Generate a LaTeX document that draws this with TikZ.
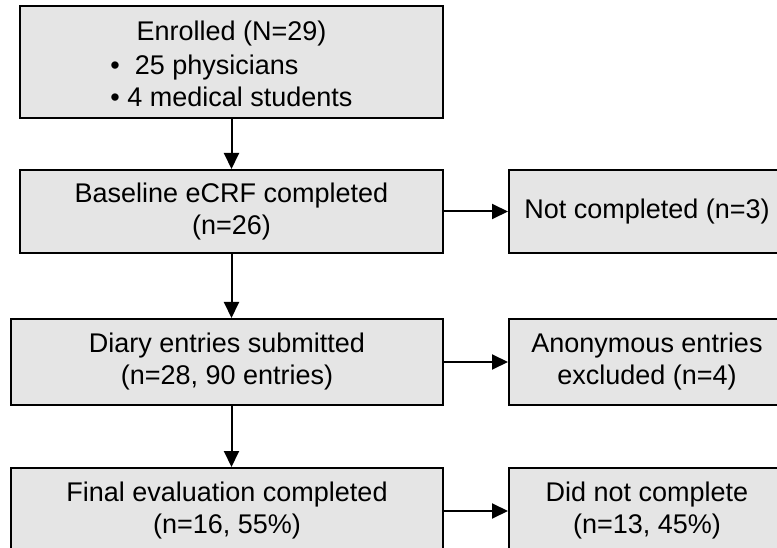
\documentclass[tikz,border=0pt]{standalone}
\usepackage{fontspec}
\setmainfont{Liberation Sans}
\usepackage{tikz}
\usetikzlibrary{arrows.meta}

\tikzset{
  box/.style={draw, line width=2pt, fill=boxgray, align=center, inner sep=0pt,
    font=\fontsize{27}{32}\selectfont},
  flow/.style={line width=2pt, -{Triangle[length=16pt,width=15pt]}}
}
\definecolor{boxgray}{RGB}{229,229,229}

\begin{document}
\begin{tikzpicture}[x=1pt, y=-1pt]
  \useasboundingbox (0,0) rectangle (777,548);
  \clip (0,0) rectangle (777,548);
  % left column
  \node[box, minimum width=423pt, minimum height=112pt] (enrolled) at (231.5, 62)
    {\raisebox{-5pt}[\height][\depth]{\begin{tabular}{@{}c@{}}
     Enrolled (N=29)\\[2pt]
     \begin{tabular}{@{}l@{}}
     \textbullet\ \ 25 physicians\\
     \textbullet\ 4 medical students
     \end{tabular}
     \end{tabular}}};
  \node[box, minimum width=423pt, minimum height=83pt] (baseline) at (231.5, 211.5)
    {Baseline eCRF completed\\(n=26)};
  \node[box, minimum width=432pt, minimum height=86pt] (diary) at (227, 362)
    {Diary entries submitted\\(n=28, 90 entries)};
  \node[box, minimum width=432pt, minimum height=86pt] (final) at (227, 511)
    {Final evaluation completed\\(n=16, 55\%)};
  % right column
  \node[box, minimum width=276pt, minimum height=83pt] (notdone) at (647, 211.5)
    {Not completed (n=3)};
  \node[box, minimum width=276pt, minimum height=86pt] (anon) at (647, 362)
    {Anonymous entries\\excluded (n=4)};
  \node[box, minimum width=276pt, minimum height=86pt] (didnot) at (647, 511)
    {Did not complete\\(n=13, 45\%)};
  % arrows
  \draw[flow] (enrolled) -- (baseline);
  \draw[flow] (baseline) -- (diary.north -| baseline);
  \draw[flow] (diary.south -| baseline) -- (final.north -| baseline);
  \draw[flow] (baseline) -- (notdone);
  \draw[flow] (diary) -- (anon);
  \draw[flow] (final) -- (didnot);
\end{tikzpicture}
\end{document}
